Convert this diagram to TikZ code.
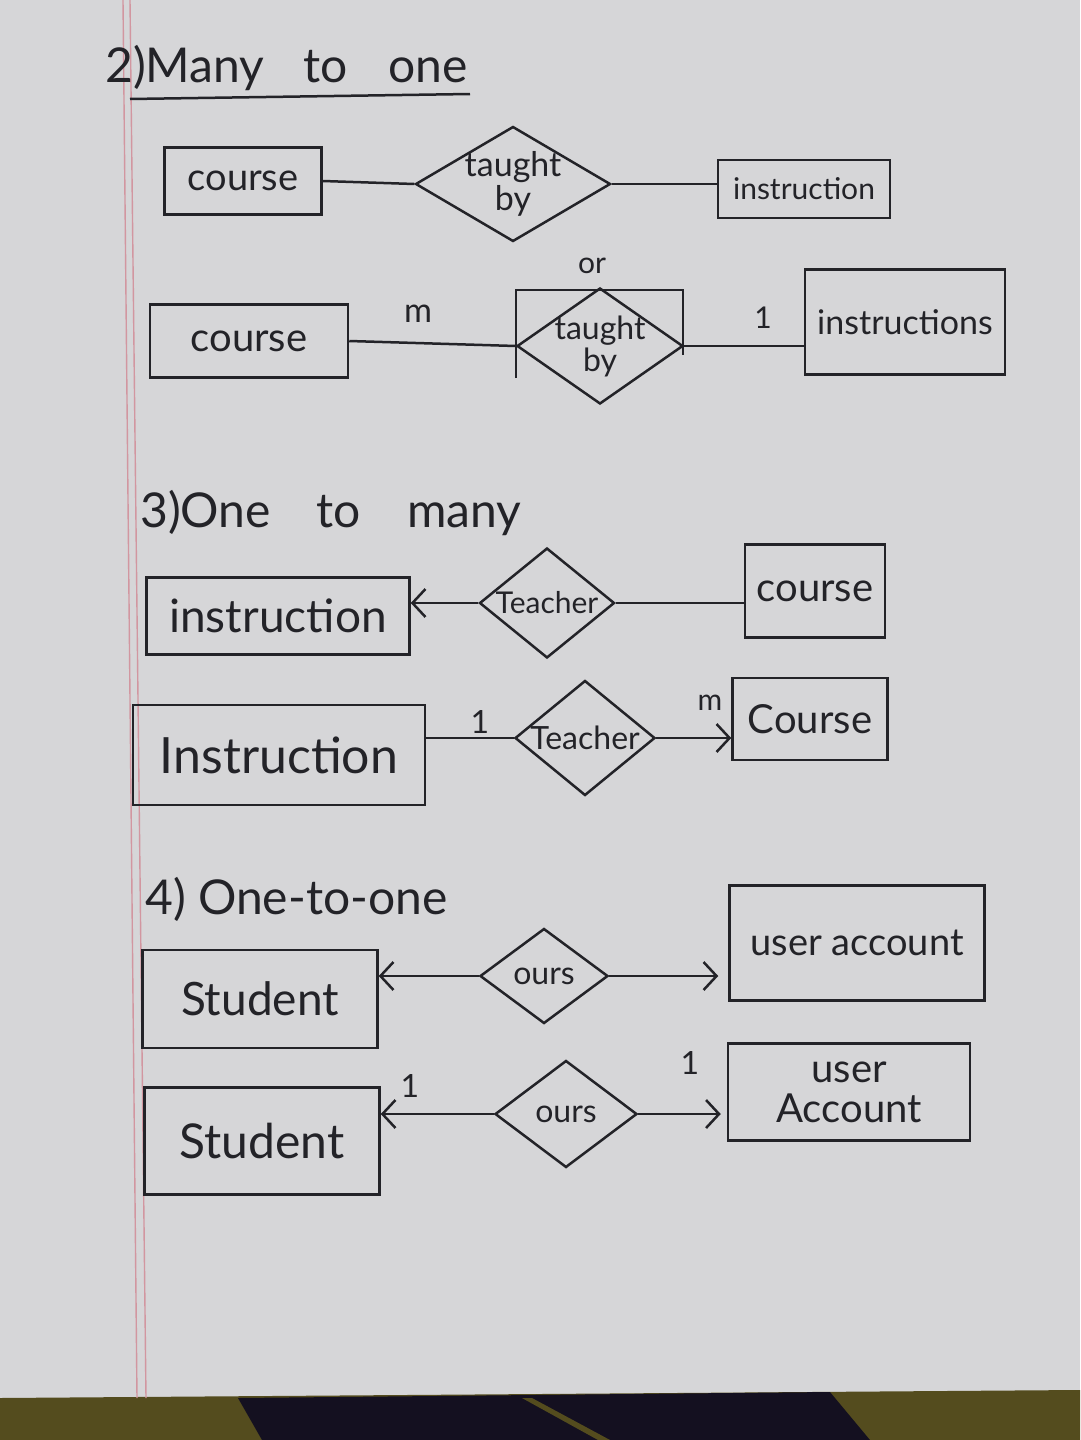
\documentclass[tikz,border=0pt]{standalone}
\usepackage{fontspec}
\setmainfont{Lato}
\usetikzlibrary{shapes.geometric,arrows.meta}
\definecolor{paper}{RGB}{214,214,216}
\definecolor{ink}{RGB}{35,35,40}
\definecolor{marginred}{RGB}{210,150,160}
\definecolor{olivebg}{RGB}{84,76,30}
\definecolor{navybg}{RGB}{20,16,32}
\newcommand{\fs}[1]{\fontsize{#1}{#1}\selectfont}
\begin{document}
\begin{tikzpicture}[x=1pt,y=-1pt,
  ent/.style={draw=ink,line width=2.5pt,inner sep=0pt,text=ink},
  rel/.style={diamond,draw=ink,line width=2.5pt,inner sep=0pt},
  conn/.style={draw=ink,line width=2.5pt},
  arr/.style={conn,-{Straight Barb[length=13pt,width=28pt]}},
  lbl/.style={text=ink,inner sep=0pt},
  title/.style={text=ink,anchor=base west,inner sep=0pt,font=\fs{48}}]
\useasboundingbox (0,0) rectangle (1080,1440);
% page
\fill[paper] (0,0) rectangle (1080,1398);
\fill[olivebg] (0,1398) -- (1080,1390) -- (1080,1440) -- (0,1440) -- cycle;
\fill[navybg] (238,1398) -- (830,1392) -- (870,1440) -- (262,1440) -- cycle;
\fill[olivebg] (522,1398) -- (532,1398) -- (610,1440) -- (598,1440) -- cycle;
\draw[marginred,line width=1.4pt] (123,0) -- (137,1398);
\draw[marginred,line width=1.4pt] (130,0) -- (146,1398);

% ---- 2) Many to one
\node[title] (t1) at (105,82) {2)Many\hspace{0.55em} to\hspace{0.6em} one};
\draw[conn] (130,99) -- (470,94);

\node[ent,minimum width=157pt,minimum height=67pt,font=\fs{38}] (c1) at (243,181) {course};
\node[rel,minimum width=195pt,minimum height=115pt,
      label={[lbl,align=center,font=\fs{34}]center:taught\\by}] (tb1) at (513,184) {};
\node[ent,minimum width=172pt,minimum height=58pt,font=\fs{30}] (i1) at (804,189) {instruction};
\draw[conn] (c1.east) -- (tb1.west);
\draw[conn] (tb1.east) -- (tb1.east -| i1.west);

\node[lbl,font=\fs{30}] (or) at (592,266) {or};

\node[ent,minimum width=198pt,minimum height=73pt,font=\fs{40}] (c2) at (249,341) {course};
\draw[conn] (516,378) -- (516,290) -- (683,290) -- (683,355);
\node[rel,minimum width=166pt,minimum height=116pt,
      label={[lbl,align=center,font=\fs{32}]center:taught\\by}] (tb2) at (600,346) {};
\node[ent,minimum width=200pt,minimum height=105pt,font=\fs{34}] (i2) at (905,322) {instructions};
\draw[conn] (c2.east) -- (tb2.west);
\draw[conn] (tb2.east) -- (tb2.east -| i2.west);
\node[lbl,font=\fs{34}] (m1) at (418,314) {m};
\node[lbl,font=\fs{30}] (o1) at (763,318) {1};

% ---- 3) One to many
\node[title] (t2) at (140,527) {3)One\hspace{0.7em} to\hspace{0.7em} many};

\node[ent,minimum width=263pt,minimum height=77pt,font=\fs{46}] (i3) at (278,616) {instruction};
\node[rel,minimum width=135pt,minimum height=110pt,
      label={[lbl,font=\fs{30}]center:Teacher}] (te3) at (547,603) {};
\node[ent,minimum width=140pt,minimum height=93pt,font=\fs{40}] (co3) at (815,591) {course};
\draw[arr] (te3.west) -- (te3.west -| i3.east);
\draw[conn] (te3.east) -- (te3.east -| co3.west);

\node[ent,minimum width=292pt,minimum height=100pt,font=\fs{50}] (i4) at (279,755) {Instruction};
\node[rel,minimum width=140pt,minimum height=115pt,
      label={[lbl,font=\fs{32}]center:Teacher}] (te4) at (585,738) {};
\node[ent,minimum width=155pt,minimum height=82pt,font=\fs{40}] (co4) at (810,719) {Course};
\draw[conn] (te4.west) -- (te4.west -| i4.east);
\draw[arr] (te4.east) -- (te4.east -| co4.west);
\node[lbl,font=\fs{32}] (one4) at (480,722) {1};
\node[lbl,font=\fs{30}] (m4) at (710,703) {m};

% ---- 4) One-to-one
\node[title] (t3) at (145,914) {4) One-to-one};

\node[ent,minimum width=235pt,minimum height=98pt,font=\fs{46}] (s5) at (260,999) {Student};
\node[rel,minimum width=128pt,minimum height=95pt,
      label={[lbl,font=\fs{32}]center:ours}] (ow5) at (544,976) {};
\node[ent,minimum width=255pt,minimum height=115pt,font=\fs{38}] (u5) at (857,943) {user account};
\draw[arr] (ow5.west) -- (ow5.west -| s5.east);
\draw[arr,shorten >=10pt] (ow5.east) -- (ow5.east -| u5.west);

\node[ent,minimum width=235pt,minimum height=107pt,font=\fs{48}] (s6) at (262,1141) {Student};
\node[rel,minimum width=142pt,minimum height=107pt,
      label={[lbl,font=\fs{32}]center:ours}] (ow6) at (566,1114) {};
\node[ent,minimum width=242pt,minimum height=97pt,align=center,font=\fs{40}] (u6) at (849,1092) {user\\Account};
\draw[arr] (ow6.west) -- (ow6.west -| s6.east);
\draw[arr,shorten >=6pt] (ow6.east) -- (ow6.east -| u6.west);
\node[lbl,font=\fs{32}] (one6a) at (410,1086) {1};
\node[lbl,font=\fs{32}] (one6b) at (690,1063) {1};
\end{tikzpicture}
\end{document}
